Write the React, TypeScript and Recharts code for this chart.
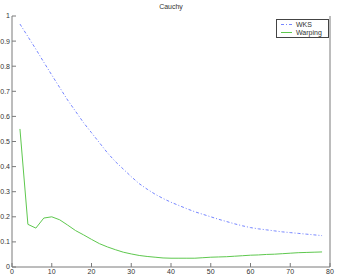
import React from "react";
import { LineChart, Line, XAxis, YAxis } from "recharts";

const xValues = [2, 4, 6, 8, 10, 12, 14, 16, 18, 20, 22, 24, 26, 28, 30, 32, 34, 36, 38, 40, 42, 44, 46, 48, 50, 52, 54, 56, 58, 60, 62, 64, 66, 68, 70, 72, 74, 76, 78];
const wks = [0.968, 0.918, 0.868, 0.816, 0.765, 0.715, 0.665, 0.62, 0.575, 0.535, 0.495, 0.455, 0.42, 0.39, 0.36, 0.332, 0.31, 0.29, 0.273, 0.258, 0.245, 0.232, 0.22, 0.21, 0.2, 0.19, 0.181, 0.172, 0.164, 0.157, 0.152, 0.148, 0.144, 0.14, 0.137, 0.134, 0.131, 0.128, 0.125];
const warping = [0.55, 0.17, 0.155, 0.195, 0.2, 0.188, 0.167, 0.145, 0.128, 0.11, 0.093, 0.08, 0.069, 0.059, 0.052, 0.046, 0.042, 0.039, 0.036, 0.035, 0.035, 0.035, 0.035, 0.037, 0.039, 0.04, 0.041, 0.043, 0.045, 0.047, 0.048, 0.05, 0.051, 0.053, 0.055, 0.057, 0.058, 0.059, 0.06];
const xTicks = [0, 10, 20, 30, 40, 50, 60, 70, 80];
const yTicks = [0, 0.1, 0.2, 0.3, 0.4, 0.5, 0.6, 0.7, 0.8, 0.9, 1];
const title = "Cauchy";
const seriesNames = ["WKS", "Warping"];

const data = xValues.map((x, i) => ({ x, wks: wks[i], warping: warping[i] }));

const axisColor = "#7a7a7a";
const textColor = "#333";
const font = "'Liberation Sans', Arial, sans-serif";
const blue = "#7585ff";
const green = "#5ec84e";
const dash = "3 2 1 2";

export default function App() {
  return (
    <div style={{ position: "absolute", left: 0, top: 0, width: 338, height: 278, background: "#fff", fontFamily: font }}>
      <LineChart width={338} height={278} data={data} margin={{ top: 16, right: 0, bottom: 0, left: 0 }}>
        <XAxis
          dataKey="x"
          type="number"
          domain={[0, 80]}
          ticks={xTicks}
          xAxisId="bottom"
          height={11}
          stroke={axisColor}
          tickSize={-4}
          tickMargin={6}
          tick={{ fontSize: 7, fill: textColor, fontFamily: font }}
          interval={0}
        />
        <XAxis
          dataKey="x"
          type="number"
          domain={[0, 80]}
          ticks={xTicks}
          xAxisId="top"
          orientation="top"
          height={0}
          stroke={axisColor}
          tickSize={-4}
          tick={false}
          interval={0}
        />
        <YAxis
          type="number"
          domain={[0, 1]}
          ticks={yTicks}
          yAxisId="left"
          width={12}
          stroke={axisColor}
          tickSize={-4}
          tickMargin={6}
          tick={{ fontSize: 7, fill: textColor, fontFamily: font }}
          interval={0}
          tickFormatter={(v: number) => String(Math.round(v * 10) / 10)}
        />
        <YAxis
          type="number"
          domain={[0, 1]}
          ticks={yTicks}
          yAxisId="right"
          orientation="right"
          width={8}
          stroke={axisColor}
          tickSize={-4}
          tick={false}
          interval={0}
        />
        <Line
          xAxisId="bottom"
          yAxisId="left"
          dataKey="wks"
          name={seriesNames[0]}
          stroke={blue}
          strokeWidth={1}
          strokeDasharray={dash}
          dot={false}
          isAnimationActive={false}
        />
        <Line
          xAxisId="bottom"
          yAxisId="left"
          dataKey="warping"
          name={seriesNames[1]}
          stroke={green}
          strokeWidth={1}
          dot={false}
          isAnimationActive={false}
        />
      </LineChart>
      <div style={{ position: "absolute", left: 0, top: 3, width: 342, textAlign: "center", fontSize: 7, color: textColor, lineHeight: "8px" }}>
        {title}
      </div>
      <div style={{ position: "absolute", left: 276, top: 19, width: 51, height: 17, border: "1px solid #444", background: "#fff" }}>
        <svg width={51} height={17} style={{ position: "absolute", left: 0, top: 0 }}>
          <line x1={4} x2={15} y1={4.5} y2={4.5} stroke={blue} strokeWidth={1} strokeDasharray={dash} />
          <line x1={4} x2={15} y1={12.5} y2={12.5} stroke={green} strokeWidth={1} />
          <text x={19} y={7} fontSize={7} fill={textColor} fontFamily={font}>{seriesNames[0]}</text>
          <text x={19} y={15} fontSize={7} fill={textColor} fontFamily={font}>{seriesNames[1]}</text>
        </svg>
      </div>
    </div>
  );
}
